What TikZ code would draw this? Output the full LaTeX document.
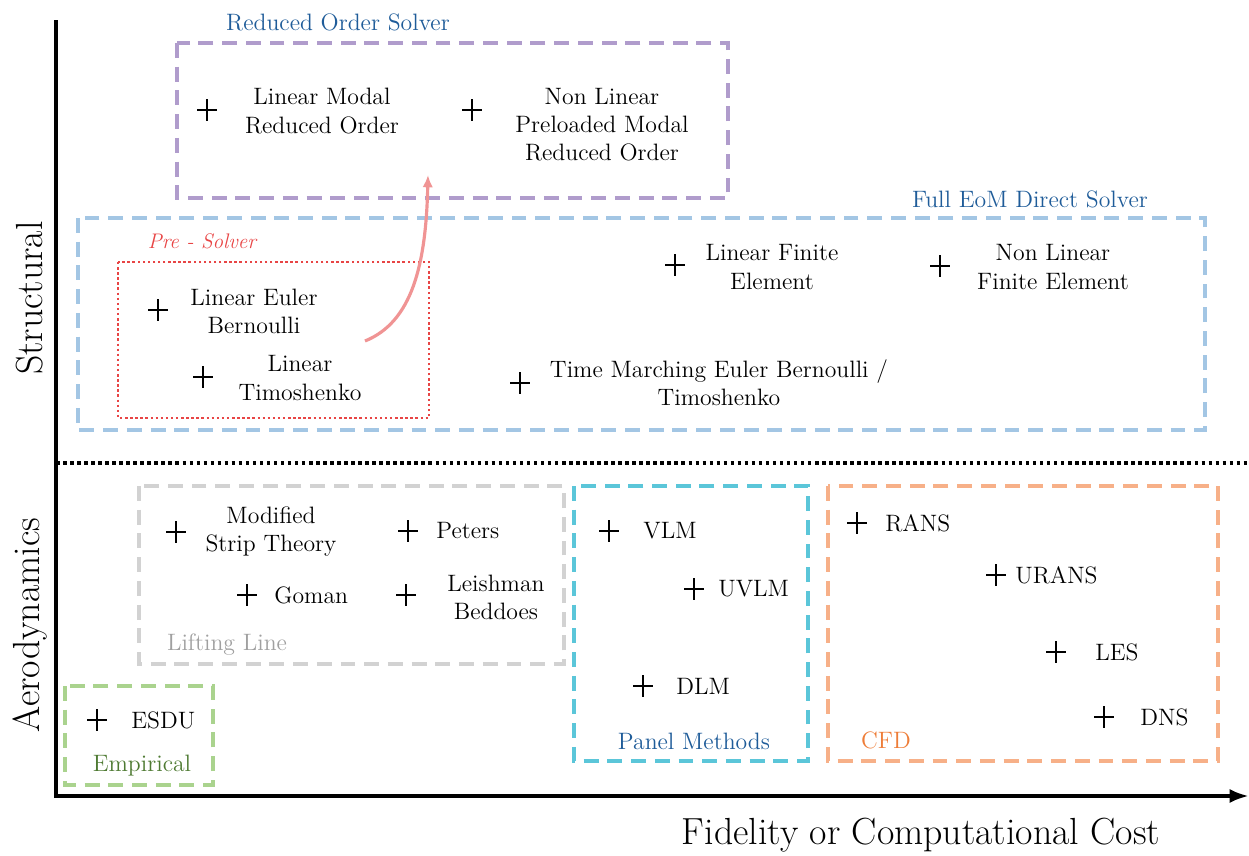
\documentclass[tikz,border=0pt]{standalone}
\usepackage{tikz}
\usetikzlibrary{arrows.meta}

\definecolor{solverblue}{HTML}{1F5C99}
\definecolor{rompurple}{HTML}{B09CCC}
\definecolor{eomblue}{HTML}{A3C6E4}
\definecolor{prered}{HTML}{E84545}
\definecolor{arrowpink}{HTML}{F09494}
\definecolor{llgray}{HTML}{D2D2D2}
\definecolor{lltext}{HTML}{A0A0A0}
\definecolor{empgreen}{HTML}{AAD38E}
\definecolor{emptext}{HTML}{4E7A32}
\definecolor{panelcyan}{HTML}{5BC6D9}
\definecolor{cfdorange}{HTML}{F7B088}
\definecolor{cfdtext}{HTML}{EE7D38}

\tikzset{
    method/.style={align=center, inner sep=0pt, font=\fontsize{13.5}{16}\selectfont},
    grouplabel/.style={inner sep=0pt, font=\fontsize{13.5}{16}\selectfont},
    axislabel/.style={inner sep=0pt, font=\fontsize{21.5}{26}\selectfont},
    groupbox/.style={line width=1.8pt, dash pattern=on 8.5pt off 5pt},
    crossmark/.pic={\draw[line width=1.6pt] (-10,0) -- (10,0) (0,-11) -- (0,11);}
}

\begin{document}
\begin{tikzpicture}[x=0.02cm, y=-0.02cm]
    \useasboundingbox (0,0) rectangle (1249,856);

    % axes
    \coordinate (ytop) at (56,20);
    \coordinate (origin) at (56,796);
    \coordinate (xend) at (1249,796);
    \coordinate (splitL) at (56,463);
    \coordinate (splitR) at (1249,463);
    \draw[line width=2.2pt, -{Latex[length=11pt, width=8pt]}] (ytop) -- (origin) -- (xend);
    \draw[line width=2pt, dash pattern=on 2pt off 2pt] (splitL) -- (splitR);

    \node at (30,298) [axislabel, rotate=90] (Structural) {Structural};
    \node at (30,625) [axislabel, rotate=90] (Aerodynamics) {Aerodynamics};
    \node at (921,835) [axislabel] (Fidelity) {Fidelity or Computational Cost};

    % structural groups
    \draw[groupbox, rompurple] (177,43) rectangle (728,198);
    \node at (338,22) [grouplabel, text=solverblue] (ROSlabel) {Reduced Order Solver};
    \draw[groupbox, eomblue] (78,218) rectangle (1205,430);
    \node at (1030,199) [grouplabel, text=solverblue] (EoMlabel) {Full EoM Direct Solver};
    \draw[line width=1.4pt, prered, dash pattern=on 1.4pt off 1.5pt] (118,262) rectangle (429,418);
    \node at (202,241) [grouplabel, text=prered, font=\fontsize{12}{14}\selectfont\itshape] (PreLabel) {Pre - Solver};

    \pic at (207,110) {crossmark};
    \node at (322,111) [method] (LinModal) {Linear Modal\\Reduced Order};
    \pic at (472,110) {crossmark};
    \node at (602,125) [method] (NLModal) {Non Linear\\Preloaded Modal\\Reduced Order};

    \pic at (158,310) {crossmark};
    \node at (254,311) [method] (LinEB) {Linear Euler\\Bernoulli};
    \pic at (203,377) {crossmark};
    \node at (300,378) [method] (LinTimo) {Linear\\Timoshenko};
    \pic at (675,265) {crossmark};
    \node at (772,267) [method] (LinFE) {Linear Finite\\Element};
    \pic at (940,266) {crossmark};
    \node at (1053,267) [method] (NLFE) {Non Linear\\Finite Element};
    \pic at (520,383) {crossmark};
    \node at (719,383) [method] (TimeMarch) {Time Marching Euler Bernoulli /\\Timoshenko};

    \coordinate (PreOut) at (365,341);
    \coordinate (ROSIn) at (428,175);
    \draw[line width=1.8pt, arrowpink, -{Latex[length=7pt, width=6pt]}] (PreOut) .. controls (412,322) and (426,265) .. (ROSIn);

    % aerodynamic groups
    \draw[groupbox, llgray] (139,486) rectangle (564,664);
    \node at (227,645) [grouplabel, text=lltext] (LLlabel) {Lifting Line};
    \draw[groupbox, empgreen] (65,686) rectangle (213,785);
    \node at (142,766) [grouplabel, text=emptext] (EmpLabel) {Empirical};
    \draw[groupbox, panelcyan] (574,486) rectangle (808,761);
    \node at (694,741) [grouplabel, text=solverblue] (PanelLabel) {Panel Methods};
    \draw[groupbox, cfdorange] (828,486) rectangle (1218,761);
    \node at (886,740) [grouplabel, text=cfdtext] (CFDlabel) {CFD};

    \pic at (176,532) {crossmark};
    \node at (271,532) [method] (MST) {Modified\\Strip Theory};
    \pic at (408,531) {crossmark};
    \node at (436,531) [method, anchor=west] (Peters) {Peters};
    \pic at (247,595) {crossmark};
    \node at (274,595) [method, anchor=west] (Goman) {Goman};
    \pic at (406,595) {crossmark};
    \node at (496,597) [method] (LB) {Leishman\\Beddoes};
    \pic at (97,720) {crossmark};
    \node at (131,720) [method, anchor=west] (ESDU) {ESDU};

    \pic at (609,531) {crossmark};
    \node at (643,531) [method, anchor=west] (VLM) {VLM};
    \pic at (694,589) {crossmark};
    \node at (718,589) [method, anchor=west] (UVLM) {UVLM};
    \pic at (643,686) {crossmark};
    \node at (676,686) [method, anchor=west] (DLM) {DLM};

    \pic at (857,523) {crossmark};
    \node at (885,523) [method, anchor=west] (RANS) {RANS};
    \pic at (996,575) {crossmark};
    \node at (1015,575) [method, anchor=west] (URANS) {URANS};
    \pic at (1056,652) {crossmark};
    \node at (1095,652) [method, anchor=west] (LES) {LES};
    \pic at (1104,717) {crossmark};
    \node at (1140,717) [method, anchor=west] (DNS) {DNS};
\end{tikzpicture}
\end{document}
